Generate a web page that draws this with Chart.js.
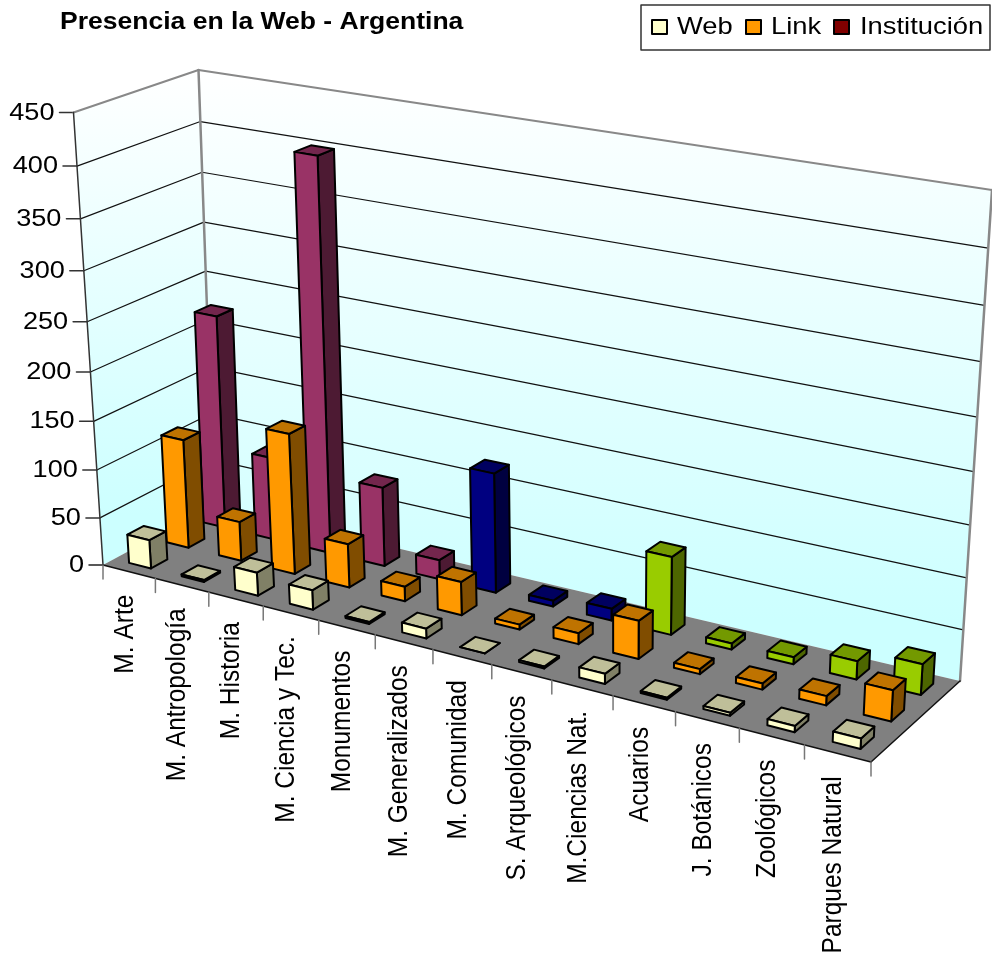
<!DOCTYPE html>
<html lang="es">
<head>
<meta charset="utf-8">
<title>Presencia en la Web - Argentina</title>
<style>
  html, body { margin: 0; padding: 0; background: #fff; }
  canvas { display: block; }
</style>
<script src="https://cdn.jsdelivr.net/npm/chart.js@4/dist/chart.umd.js"></script>
</head>
<body>
<canvas id="chart" width="992" height="967"></canvas>
<script>
// Chart data
const chartTitle = 'Presencia en la Web - Argentina';
const categories = ['M. Arte', 'M. Antropología', 'M. Historia', 'M. Ciencia y Tec.', 'Monumentos',
  'M. Generalizados', 'M. Comunidad', 'S. Arqueológicos', 'M.Ciencias Nat.', 'Acuarios',
  'J. Botánicos', 'Zoológicos', 'Parques Natural'];
const webValues = [30, 2, 24, 20, 2, 10, 0, 2, 10, 2, 3, 6, 10];
const linkValues = [114, 41, 145, 45, 15, 34, 5, 11, 38, 5, 6, 9, 30];
const institucionValues = [223, 87, 400, 82, 20, 122, 6, 12, 78, 6, 7, 18, 30];
const seriesNames = ['Web', 'Link', 'Institución'];

// Colours
const webColor = '#FFFFCC';
const linkColor = '#FF9900';
const legendInstitucionColor = '#800000';
const museoColor = '#993366';
const sitioColor = '#000080';
const naturalColor = '#99CC00';
const institucionColors = [museoColor, museoColor, museoColor, museoColor, museoColor,
  sitioColor, sitioColor, sitioColor,
  naturalColor, naturalColor, naturalColor, naturalColor, naturalColor];

// Camera frame: floor and ceiling quadrilaterals of the plot box (front-left, front-right, back-right, back-left)
const floorQuad = [[103, 565], [871, 762], [960, 681], [214, 505]];
const ceilingQuad = [[73.5, 112.5], [897, 252], [992, 190], [198.5, 70]];
const heightPerspective = 0.93; // upper part of the box sits nearer the viewer
const widthPerspective = 1.04;  // extra foreshortening along the categories

// Homography taking the unit square onto a quadrilateral
function squareToQuad(q) {
  const [[x0, y0], [x1, y1], [x2, y2], [x3, y3]] = q;
  const dx1 = x1 - x2, dx2 = x3 - x2, sx = x0 - x1 + x2 - x3;
  const dy1 = y1 - y2, dy2 = y3 - y2, sy = y0 - y1 + y2 - y3;
  const det = dx1 * dy2 - dx2 * dy1;
  const g = (sx * dy2 - dx2 * sy) / det;
  const h = (dx1 * sy - sx * dy1) / det;
  return { a: x1 - x0 + g * x1, b: x3 - x0 + h * x3, c: x0, d: y1 - y0 + g * y1, e: y3 - y0 + h * y3, f: y0, g, h };
}
const floorH = squareToQuad(floorQuad);
const ceilingH = squareToQuad(ceilingQuad);
function applyH(m, u, w) {
  const d = m.g * u + m.h * w + 1;
  return [(m.a * u + m.b * w + m.c) / d, (m.d * u + m.e * w + m.f) / d];
}
function foreshorten(t, k) {
  return t * k / (1 - t + t * k);
}
function project(u, w, h) {
  const uu = foreshorten(u, widthPerspective);
  const lo = applyH(floorH, uu, w), hi = applyH(ceilingH, uu, w);
  const t = foreshorten(h, heightPerspective);
  return [lo[0] + (hi[0] - lo[0]) * t, lo[1] + (hi[1] - lo[1]) * t];
}

function polygon(ctx, pts) {
  ctx.beginPath();
  pts.forEach((p, i) => (i ? ctx.lineTo(p[0], p[1]) : ctx.moveTo(p[0], p[1])));
  ctx.closePath();
}
function segment(ctx, a, b, color, width) {
  ctx.strokeStyle = color;
  ctx.lineWidth = width;
  ctx.beginPath();
  ctx.moveTo(a[0], a[1]);
  ctx.lineTo(b[0], b[1]);
  ctx.stroke();
}
function shade(hex, k) {
  const v = parseInt(hex.slice(1), 16);
  const c = [v >> 16, (v >> 8) & 255, v & 255].map(x => Math.round(x * k));
  return `rgb(${c[0]},${c[1]},${c[2]})`;
}
function wideText(ctx, text, x, y, stretch, align) {
  ctx.save();
  ctx.translate(x, y);
  ctx.scale(stretch, 1);
  ctx.textAlign = align;
  ctx.textBaseline = 'alphabetic';
  ctx.fillText(text, 0, 0);
  ctx.restore();
}

function wallGradient(ctx, pts) {
  const ys = pts.map(p => p[1]);
  const g = ctx.createLinearGradient(0, Math.min(...ys), 0, Math.max(...ys));
  g.addColorStop(0, '#FFFFFF');
  g.addColorStop(0.9, '#CCFFFF');
  g.addColorStop(1, '#CCFFFF');
  return g;
}

const scene3d = {
  id: 'scene3d',
  beforeDatasetsDraw(chart) {
    const { ctx, chartArea: area, scales: { x: xScale, y: yScale } } = chart;
    ctx.save();
    ctx.lineJoin = 'round';
    ctx.lineCap = 'round';

    // Side wall, back wall and floor
    const sideWall = [project(0, 0, 0), project(0, 0, 1), project(0, 1, 1), project(0, 1, 0)];
    const backWall = [project(0, 1, 0), project(0, 1, 1), project(1, 1, 1), project(1, 1, 0)];
    const floor = [project(0, 0, 0), project(1, 0, 0), project(1, 1, 0), project(0, 1, 0)];
    polygon(ctx, sideWall); ctx.fillStyle = wallGradient(ctx, sideWall); ctx.fill();
    polygon(ctx, backWall); ctx.fillStyle = wallGradient(ctx, backWall); ctx.fill();
    polygon(ctx, floor); ctx.fillStyle = '#808080'; ctx.fill();

    // Horizontal gridlines from the value scale, value labels and their tick marks
    yScale.ticks.forEach(t => {
      const h = (area.bottom - yScale.getPixelForValue(t.value)) / area.height;
      const a = project(0, 0, h), b = project(0, 1, h), c = project(1, 1, h);
      if (t.value > 0 && h < 1) {
        segment(ctx, a, b, '#111', 1.2);
        segment(ctx, b, c, '#111', 1.2);
      }
      segment(ctx, [a[0] - 14, a[1]], a, t.value === 0 ? '#222' : '#333', 1.5);
      ctx.fillStyle = '#000';
      ctx.font = '24px "Liberation Sans", Arial, sans-serif';
      wideText(ctx, String(t.value), a[0] - 19, a[1] + 7, 1.13, 'right');
    });

    // Frame edges
    const grey = '#888888';
    segment(ctx, project(0, 0, 1), project(0, 1, 1), grey, 2);
    segment(ctx, project(0, 1, 1), project(1, 1, 1), grey, 2);
    segment(ctx, project(0, 1, 1), project(0, 1, 0), grey, 2.5);
    segment(ctx, project(1, 1, 1), project(1, 1, 0), grey, 2.5);
    segment(ctx, project(0, 0, 1), project(0, 0, 0), '#333', 1.5);
    segment(ctx, project(0, 0, 0), project(1, 0, 0), '#111', 1.5);
    segment(ctx, project(1, 0, 0), project(1, 1, 0), '#111', 1.5);

    // Category ticks and rotated labels
    const count = xScale.getLabels().length;
    for (let i = 0; i <= count; i++) {
      const p = project(i / count, 0, 0);
      segment(ctx, p, [p[0], p[1] + 14], '#777', 1.5);
    }
    xScale.getLabels().forEach((label, i) => {
      const u = (xScale.getPixelForValue(i) - area.left) / area.width;
      const p = project(u, 0, 0);
      ctx.save();
      ctx.translate(p[0] + 3.5, p[1] + 23);
      ctx.rotate(-Math.PI / 2);
      ctx.scale(1, 1.12);
      ctx.fillStyle = '#000';
      ctx.font = '24.5px "Liberation Sans", Arial, sans-serif';
      ctx.textAlign = 'right';
      ctx.textBaseline = 'alphabetic';
      ctx.fillText(label, 0, 0);
      ctx.restore();
    });

    // Columns: back row first, left to right inside each row
    const rows = chart.data.datasets.length;
    for (let d = rows - 1; d >= 0; d--) {
      const dataset = chart.data.datasets[d];
      const meta = chart.getDatasetMeta(d);
      const depthCenter = (d + 0.5) / rows;
      const halfDepth = 0.43 / rows / 2;
      meta.data.forEach((bar, i) => {
        const uMid = (bar.x - area.left) / area.width;
        const halfU = bar.width / 2 / area.width;
        const top = (bar.base - bar.y) / area.height;
        const u0 = uMid - halfU, u1 = uMid + halfU;
        const w0 = depthCenter - halfDepth, w1 = depthCenter + halfDepth;
        const color = Array.isArray(dataset.backgroundColor) ? dataset.backgroundColor[i] : dataset.backgroundColor;
        const faces = [
          [[project(u1, w0, 0), project(u1, w1, 0), project(u1, w1, top), project(u1, w0, top)], shade(color, 0.5)],
          [[project(u0, w0, top), project(u1, w0, top), project(u1, w1, top), project(u0, w1, top)], shade(color, 0.75)],
          [[project(u0, w0, 0), project(u1, w0, 0), project(u1, w0, top), project(u0, w0, top)], color]
        ];
        faces.forEach(([pts, fill]) => {
          polygon(ctx, pts);
          ctx.fillStyle = fill;
          ctx.fill();
          ctx.strokeStyle = '#000';
          ctx.lineWidth = 2;
          ctx.stroke();
        });
      });
    }

    // Title
    ctx.fillStyle = '#000';
    ctx.font = 'bold 24px "Liberation Sans", Arial, sans-serif';
    wideText(ctx, chart.options.plugins.title.text, 60, 28.5, 1.105, 'left');

    // Legend box
    ctx.fillStyle = '#fff';
    ctx.fillRect(641, 5, 349, 45);
    ctx.strokeStyle = '#333';
    ctx.lineWidth = 1.5;
    ctx.strokeRect(641, 5, 349, 45);
    const legendSwatches = [webColor, linkColor, legendInstitucionColor];
    const legendSwatchX = [652, 746, 834];
    const legendTextX = [677, 771, 860];
    chart.data.datasets.forEach((ds, k) => {
      ctx.fillStyle = legendSwatches[k];
      ctx.fillRect(legendSwatchX[k], 20, 15, 14);
      ctx.strokeStyle = '#000';
      ctx.lineWidth = 2;
      ctx.strokeRect(legendSwatchX[k], 20, 15, 14);
      ctx.fillStyle = '#000';
      ctx.font = '24px "Liberation Sans", Arial, sans-serif';
      wideText(ctx, ds.label, legendTextX[k], 34, 1.14, 'left');
    });
    ctx.restore();
    return false; // the boxes above replace the flat rectangles
  }
};

new Chart(document.getElementById('chart'), {
  type: 'bar',
  plugins: [scene3d],
  data: {
    labels: categories,
    datasets: [
      { label: seriesNames[0], data: webValues, backgroundColor: webColor },
      { label: seriesNames[1], data: linkValues, backgroundColor: linkColor },
      { label: seriesNames[2], data: institucionValues, backgroundColor: institucionColors }
    ]
  },
  options: {
    responsive: false,
    animation: false,
    devicePixelRatio: 1,
    layout: { padding: 0 },
    grouped: false,
    barPercentage: 0.42,
    categoryPercentage: 1,
    plugins: {
      legend: { display: false },
      title: { display: false, text: chartTitle },
      tooltip: { enabled: false }
    },
    scales: {
      x: { display: false, grid: { display: false } },
      y: { display: false, min: 0, max: 450, ticks: { stepSize: 50 }, grid: { display: false } }
    }
  }
});
</script>
</body>
</html>
